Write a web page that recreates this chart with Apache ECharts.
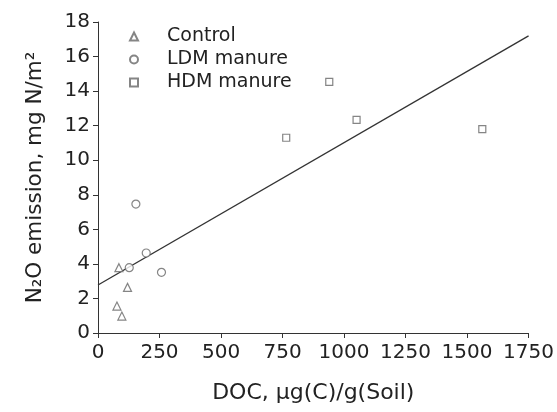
<!DOCTYPE html>
<html><head><meta charset="utf-8">
<script src="https://cdn.jsdelivr.net/npm/echarts@6/dist/echarts.min.js"></script>
<style>html,body{margin:0;padding:0;background:#fff}#c{width:557px;height:412px}</style>
</head><body><div id="c"></div>
<script>
var controlData = [[85,3.78],[120,2.64],[77,1.56],[97,0.98]];
var ldmData = [[154,7.46],[127,3.78],[196,4.63],[258,3.51]];
var hdmData = [[940,14.54],[1051,12.33],[765,11.3],[1562,11.8]];
var fitLine = [[0,2.78],[1750,17.2]];
var seriesNames = ['Control','LDM manure','HDM manure'];
var xTicks = {min:0,max:1750,interval:250};
var yTicks = {min:0,max:18,interval:2};

var font = 'DejaVu Sans';
var chart = echarts.init(document.getElementById('c'), null, {renderer:'canvas'});
var mk = function(name, data, symbol, size){
  return {name:name, type:'scatter', data:data, symbol:symbol, symbolSize:size,
    itemStyle:{color:'#fff', borderColor:'#666', borderWidth:1.2}, z:3};
};
chart.setOption({
  animation:false,
  textStyle:{fontFamily:font},
  grid:{left:98,right:28,top:22,bottom:79},
  legend:{orient:'vertical', left:129, top:27, padding:0, itemWidth:8, itemHeight:8, itemGap:4,
    textStyle:{fontFamily:font, fontSize:19, color:'#222', padding:[0,0,0,24]},
    data:seriesNames},
  xAxis:{type:'value', min:xTicks.min, max:xTicks.max, interval:xTicks.interval,
    name:'DOC, µg(C)/g(Soil)', nameLocation:'middle', nameGap:49,
    nameTextStyle:{fontFamily:font,fontSize:22,color:'#222'},
    axisLine:{show:true,lineStyle:{color:'#333',width:1}},
    axisTick:{show:true,length:5,lineStyle:{color:'#333'}},
    axisLabel:{fontFamily:font,fontSize:20,color:'#222',margin:10,formatter:function(v){return String(v);}},
    splitLine:{show:false}},
  yAxis:{type:'value', min:yTicks.min, max:yTicks.max, interval:yTicks.interval,
    name:'N₂O emission, mg N/m²', nameLocation:'middle', nameGap:52,
    nameTextStyle:{fontFamily:font,fontSize:21.5,color:'#222'},
    axisLine:{show:true,lineStyle:{color:'#333',width:1}},
    axisTick:{show:true,length:5,lineStyle:{color:'#333'}},
    axisLabel:{fontFamily:font,fontSize:20,color:'#222',margin:8},
    splitLine:{show:false}},
  series:[
    mk(seriesNames[0], controlData, 'triangle', 8),
    mk(seriesNames[1], ldmData, 'circle', 8),
    mk(seriesNames[2], hdmData, 'rect', 7),
    {name:'fit', type:'line', data:fitLine, symbol:'none', lineStyle:{color:'#333',width:1.3}, z:2}
  ]
});
</script></body></html>
